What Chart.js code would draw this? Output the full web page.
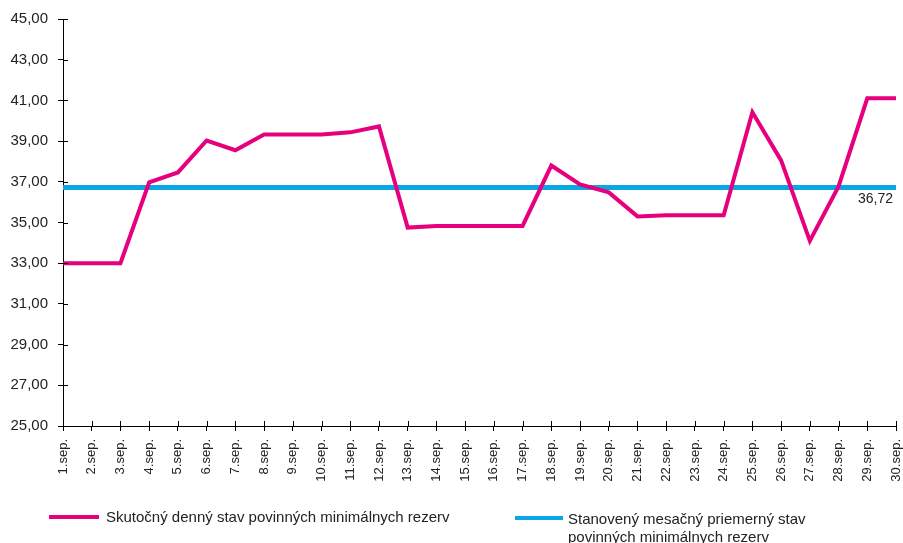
<!DOCTYPE html>
<html>
<head>
<meta charset="utf-8">
<script src="https://cdn.jsdelivr.net/npm/chart.js@4/dist/chart.umd.min.js"></script>
<style>
  html, body { margin: 0; padding: 0; background: #fff; }
  #wrap { position: relative; width: 903px; height: 543px; }
  .leg { position: absolute; font-family: "Liberation Sans", Arial, sans-serif; font-size: 15px; color: #222; line-height: 18px; white-space: nowrap; }
  .sw { position: absolute; height: 4px; }
</style>
</head>
<body>
<div id="wrap">
  <canvas id="graf" width="903" height="543"></canvas>
  <div class="sw" style="left:49px;width:50px;top:515px;background:#E6007E"></div>
  <div class="leg" style="left:106px;top:508px">Skutočný denný stav povinných minimálnych rezerv</div>
  <div class="sw" style="left:515px;width:48px;top:516px;background:#0AA7E5"></div>
  <div class="leg" style="left:568px;top:510px">Stanovený mesačný priemerný stav<br>povinných minimálnych rezerv</div>
</div>
<script>
// Dni v septembri
const dni = [];
for (let d = 1; d <= 30; d++) dni.push(d + '.sep.');

// Skutočný denný stav
const skutocny = [33.0, 33.0, 33.0, 36.97, 37.46, 39.03, 38.55, 39.33, 39.33, 39.33,
  39.43, 39.72, 34.75, 34.83, 34.83, 34.83, 34.83, 37.8, 36.87, 36.48,
  35.3, 35.36, 35.36, 35.36, 40.42, 38.05, 34.1, 36.77, 41.1, 41.1];

// Stanovený mesačný priemer
const priemer = 36.72;
const priemerRad = dni.map(() => priemer);

const formatCislo = v => v.toFixed(2).replace('.', ',');

// krížové značky na osiach + popis priemeru
const znacky = {
  id: 'znacky',
  afterDraw(chart) {
    const c = chart.ctx;
    const x = chart.scales.x, y = chart.scales.y;
    c.save();
    c.strokeStyle = '#000';
    c.lineWidth = 1;
    c.beginPath();
    x.ticks.forEach((t, i) => {
      const px = Math.round(x.getPixelForTick(i)) + 0.5;
      c.moveTo(px, y.bottom - 5);
      c.lineTo(px, y.bottom);
    });
    y.ticks.forEach((t, i) => {
      const py = Math.round(y.getPixelForTick(i)) + 0.5;
      c.moveTo(x.left, py);
      c.lineTo(x.left + 5, py);
    });
    c.stroke();
    c.fillStyle = '#222';
    c.font = '14px "Liberation Sans", Arial, sans-serif';
    c.textAlign = 'right';
    c.textBaseline = 'middle';
    c.fillText(formatCislo(priemer), x.right - 3, y.getPixelForValue(priemer) + 12);
    c.restore();
  }
};

new Chart(document.getElementById('graf'), {
  type: 'line',
  data: {
    labels: dni,
    datasets: [{
      label: 'Stanovený mesačný priemerný stav povinných minimálnych rezerv',
      data: priemerRad,
      borderColor: '#0AA7E5',
      borderWidth: 5,
      pointRadius: 0,
      tension: 0,
      order: 2
    }, {
      label: 'Skutočný denný stav povinných minimálnych rezerv',
      data: skutocny,
      borderColor: '#E6007E',
      borderWidth: 4,
      pointRadius: 0,
      tension: 0,
      order: 1
    }]
  },
  options: {
    responsive: false,
    animation: false,
    layout: { padding: { top: 19, right: 7, bottom: 0, left: 0 } },
    plugins: {
      legend: { display: false },
      tooltip: { enabled: false }
    },
    scales: {
      y: {
        min: 25,
        max: 45,
        afterFit: s => { s.width = 63; s.paddingTop = 0; s.paddingBottom = 0; },
        ticks: {
          stepSize: 2,
          color: '#222',
          padding: 10,
          font: { family: '"Liberation Sans", Arial, sans-serif', size: 15 },
          callback: v => formatCislo(v)
        },
        grid: { drawOnChartArea: false, drawTicks: true, tickLength: 5, color: '#000' },
        border: { color: '#000', width: 1 }
      },
      x: {
        offset: false,
        afterFit: s => { s.height = 117; s.paddingLeft = 0; s.paddingRight = 0; },
        ticks: {
          color: '#222',
          minRotation: 90,
          maxRotation: 90,
          autoSkip: false,
          padding: 8,
          font: { family: '"Liberation Sans", Arial, sans-serif', size: 13 }
        },
        grid: { drawOnChartArea: false, drawTicks: true, tickLength: 5, color: '#000' },
        border: { color: '#000', width: 1 }
      }
    }
  },
  plugins: [znacky]
});
</script>
</body>
</html>
